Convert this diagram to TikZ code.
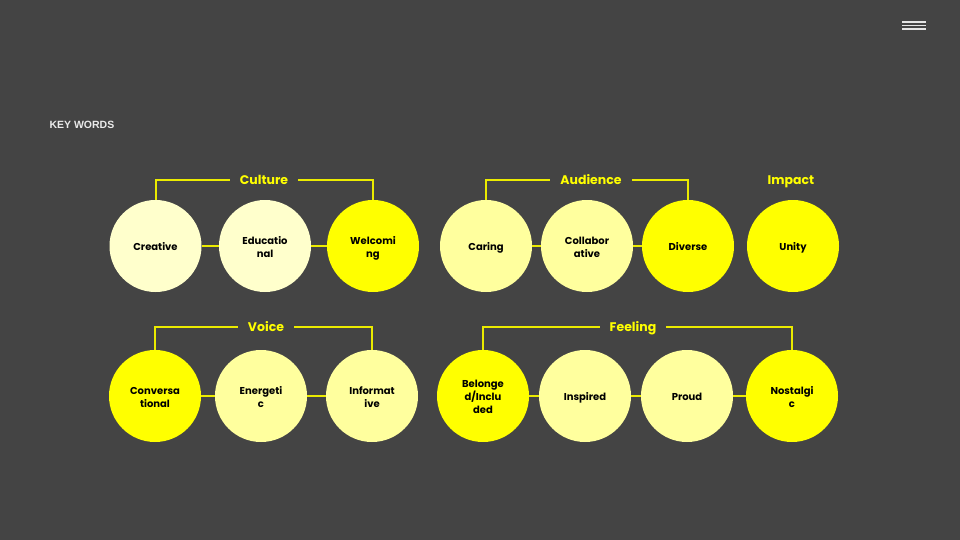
\documentclass[tikz,border=0pt]{standalone}
\usepackage{fontspec}
\setmainfont{Poppins}
\newfontfamily\keyfont{Liberation Sans}
\usetikzlibrary{positioning}
\definecolor{slate}{HTML}{444444}
\definecolor{palecream}{HTML}{FFFFCC}
\definecolor{lightlemon}{HTML}{FFFF9E}
\definecolor{brightlemon}{HTML}{FFFF00}
\definecolor{linklemon}{HTML}{EBEB00}
\tikzstyle{word} = [circle, minimum size=92pt, inner sep=0pt, align=center, font=\fontsize{10}{13}\selectfont\bfseries, text=black, execute at begin node={\rule{0pt}{13.5pt}}, execute at end node=\strut]
\tikzstyle{pale} = [word, fill=palecream]
\tikzstyle{light} = [word, fill=lightlemon]
\tikzstyle{bright} = [word, fill=brightlemon]
\tikzstyle{twoline} = [text height=25pt, text depth=3pt]
\tikzstyle{threeline} = [text height=37pt, text depth=3pt]
\tikzstyle{group} = [inner xsep=10pt, inner ysep=2pt, text height=9pt, text depth=3pt, text=brightlemon, font=\fontsize{12.5}{14}\selectfont\bfseries]
\tikzstyle{link} = [draw=linklemon, line width=2pt]

\begin{document}
\begin{tikzpicture}[x=1pt, y=-1pt]
    % Background
    \fill[slate] (0,0) rectangle (960,540);
    \useasboundingbox (0,0) rectangle (960,540);

    % Menu icon and heading
    \coordinate (menuA) at (902,22);
    \coordinate (menuB) at (926,22);
    \foreach \dy in {0,3.5,7}
        \draw[white!90!black, line width=1.3pt] ([yshift=-\dy pt]menuA) -- ([yshift=-\dy pt]menuB);
    \node (keywords) [anchor=west, text=white!92!black, font=\keyfont\fontsize{10.5}{12}\selectfont\bfseries] at (46,125) {KEY WORDS};

    % Nodes - top row
    \node (creative) [pale] at (155.5,246) {Creative};
    \node (educational) [pale, twoline] at (265,246) {Educatio\\nal};
    \node (welcoming) [bright, twoline] at (373,246) {Welcomi\\ng};
    \node (caring) [light] at (486,246) {Caring};
    \node (collaborative) [light, twoline] at (587,246) {Collabor\\ative};
    \node (diverse) [bright] at (688,246) {Diverse};
    \node (unity) [bright] at (793,246) {Unity};

    % Nodes - bottom row
    \node (conversational) [bright, twoline] at (155,396) {Conversa\\tional};
    \node (energetic) [light, twoline] at (261,396) {Energeti\\c};
    \node (informative) [light, twoline] at (372,396) {Informat\\ive};
    \node (belonged) [bright, threeline] at (483,396) {Belonge\\d/Inclu\\ded};
    \node (inspired) [light] at (585,396) {Inspired};
    \node (proud) [light] at (687,396) {Proud};
    \node (nostalgic) [bright, twoline] at (792,396) {Nostalgi\\c};

    % Group labels
    \node (culture) [group] at (264,181.5) {Culture};
    \node (audience) [group] at (591,181.5) {Audience};
    \node (impact) [group] at (791,181.5) {Impact};
    \node (voice) [group] at (266,328.5) {Voice};
    \node (feeling) [group] at (633,328.5) {Feeling};

    % Links
    \draw [link] (creative) -- (educational);
    \draw [link] (educational) -- (welcoming);
    \draw [link] (caring) -- (collaborative);
    \draw [link] (collaborative) -- (diverse);
    \draw [link] (conversational) -- (energetic);
    \draw [link] (energetic) -- (informative);
    \draw [link] (belonged) -- (inspired);
    \draw [link] (inspired) -- (proud);
    \draw [link] (proud) -- (nostalgic);

    % Brackets
    \draw [link] (creative.north) |- ([yshift=1.5pt]culture.west);
    \draw [link] ([yshift=1.5pt]culture.east) -| (welcoming.north);
    \draw [link] (caring.north) |- ([yshift=1.5pt]audience.west);
    \draw [link] ([yshift=1.5pt]audience.east) -| (diverse.north);
    \draw [link] (conversational.north) |- ([yshift=1.5pt]voice.west);
    \draw [link] ([yshift=1.5pt]voice.east) -| (informative.north);
    \draw [link] (belonged.north) |- ([yshift=1.5pt]feeling.west);
    \draw [link] ([yshift=1.5pt]feeling.east) -| (nostalgic.north);

\end{tikzpicture}
\end{document}
